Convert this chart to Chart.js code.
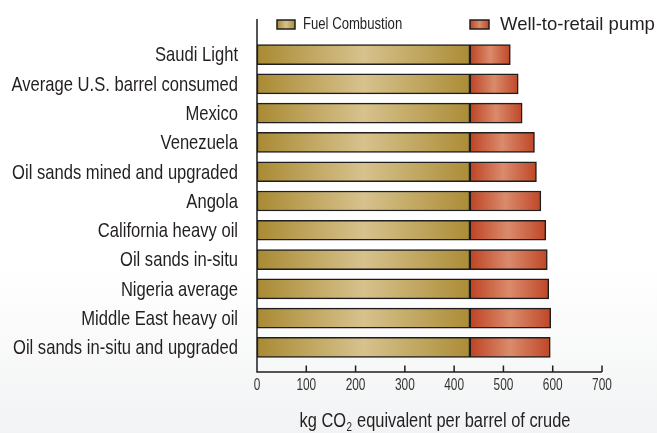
<!DOCTYPE html>
<html>
<head>
<meta charset="utf-8">
<script src="https://cdn.jsdelivr.net/npm/chart.js@4"></script>
<style>
  html, body { margin: 0; padding: 0; }
  body { width: 657px; height: 433px; background: linear-gradient(to bottom, #ffffff 0%, #ffffff 62%, #f2f3f4 100%); }
  #wrap { position: relative; width: 657px; height: 433px; }
</style>
</head>
<body>
<div id="wrap"><canvas id="co2Chart" width="657" height="433"></canvas></div>
<script>
// crude types, top to bottom
const categories = [
    'Saudi Light',
    'Average U.S. barrel consumed',
    'Mexico',
    'Venezuela',
    'Oil sands mined and upgraded',
    'Angola',
    'California heavy oil',
    'Oil sands in-situ',
    'Nigeria average',
    'Middle East heavy oil',
    'Oil sands in-situ and upgraded',
];
// kg CO2 eq per barrel
const fuelCombustion = [432, 432, 432, 432, 432, 432, 432, 432, 432, 432, 432];
const wellToPump = [82, 98, 106, 131, 135, 144, 154, 157, 160, 164, 163];
const xTickValues = [0, 100, 200, 300, 400, 500, 600, 700];

const seriesLabels = ['Fuel Combustion', 'Well-to-retail pump'];
const goldStops = ['#a98a33', '#d7c28d', '#ab8c36'];
const redStops = ['#bd4424', '#da8b6c', '#bf4727'];

const sans = '"Liberation Sans", Arial, sans-serif';
const axisColor = '#1e1e1e';
const textColor = '#231f20';

function segmentGradient(stops) {
    return (ctx) => {
        const chart = ctx.chart;
        const x = chart.scales.x;
        if (!x || !chart.chartArea || ctx.dataIndex === undefined) return stops[1];
        const i = ctx.dataIndex;
        const start = ctx.datasetIndex === 0 ? 0 : fuelCombustion[i];
        const end = ctx.datasetIndex === 0 ? fuelCombustion[i] : fuelCombustion[i] + wellToPump[i];
        const x0 = x.getPixelForValue(start);
        const x1 = x.getPixelForValue(end);
        const g = chart.ctx.createLinearGradient(x0, 0, x1, 0);
        g.addColorStop(0, stops[0]);
        g.addColorStop(0.5, stops[1]);
        g.addColorStop(1, stops[2]);
        return g;
    };
}

function boxGradient(c, x0, x1, stops) {
    const g = c.createLinearGradient(x0, 0, x1, 0);
    g.addColorStop(0, stops[0]);
    g.addColorStop(0.5, stops[1]);
    g.addColorStop(1, stops[2]);
    return g;
}

// condensed text: the original uses a narrow face, so squeeze a regular one
function narrowText(c, text, x, y, size, align, squeeze) {
    c.save();
    c.translate(x, y);
    c.scale(squeeze, 1);
    c.font = size + 'px ' + sans;
    c.textAlign = align;
    c.fillText(text, 0, 0);
    c.restore();
}

// axis lines with inward tick marks, slightly longer than the bar area
const axisLines = {
    id: 'axisLines',
    afterDatasetsDraw(chart) {
        const c = chart.ctx;
        const x = chart.scales.x;
        const area = chart.chartArea;
        const x0 = x.getPixelForValue(0);
        const yBottom = area.bottom + 10;
        c.save();
        c.strokeStyle = axisColor;
        c.lineWidth = 1.5;
        c.beginPath();
        c.moveTo(x0, 19);
        c.lineTo(x0, yBottom);
        c.lineTo(x.getPixelForValue(700), yBottom);
        for (const v of xTickValues.slice(1)) {
            const px = x.getPixelForValue(v);
            c.moveTo(px, yBottom);
            c.lineTo(px, yBottom - 6.5);
        }
        c.stroke();
        c.restore();
    },
};

// category labels, tick labels and axis title in a narrow style
const axisText = {
    id: 'axisText',
    afterDraw(chart) {
        const c = chart.ctx;
        const x = chart.scales.x;
        const y = chart.scales.y;
        const area = chart.chartArea;
        c.save();
        c.fillStyle = textColor;
        c.textBaseline = 'middle';
        categories.forEach((label, i) => {
            narrowText(c, label, area.left - 19, y.getPixelForValue(i) + 1, 21, 'right', 0.79);
        });
        c.fillStyle = '#333';
        for (const v of xTickValues) {
            narrowText(c, String(v), x.getPixelForValue(v), area.bottom + 24, 16, 'center', 0.74);
        }
        // axis title with subscript 2
        c.fillStyle = textColor;
        c.textBaseline = 'alphabetic';
        const parts = ['kg CO', '2', ' equivalent per barrel of crude'];
        c.font = '20px ' + sans;
        const w0 = c.measureText(parts[0]).width;
        const w2 = c.measureText(parts[2]).width;
        c.font = '12px ' + sans;
        const w1 = c.measureText(parts[1]).width;
        const sq = 0.82;
        const total = (w0 + w1 + w2) * sq;
        const cx = (area.left + area.right) / 2 + 5;
        const base = 427;
        let tx = cx - total / 2;
        narrowText(c, parts[0], tx, base, 20, 'left', sq);
        tx += w0 * sq + 0.5;
        narrowText(c, parts[1], tx, base + 4, 12, 'left', sq);
        tx += w1 * sq + 0.5;
        narrowText(c, parts[2], tx, base, 20, 'left', sq);
        c.restore();
    },
};

// legend with two different type styles, as in the original
const customLegend = {
    id: 'customLegend',
    afterDraw(chart) {
        const c = chart.ctx;
        const left = chart.chartArea.left;
        const boxes = [
            { stops: goldStops, bx: left + 20, bw: 18 },
            { stops: redStops, bx: left + 213, bw: 19 },
        ];
        c.save();
        for (const b of boxes) {
            c.fillStyle = boxGradient(c, b.bx, b.bx + b.bw, b.stops);
            c.fillRect(b.bx, 20, b.bw, 9);
            c.strokeStyle = axisColor;
            c.lineWidth = 1.5;
            c.strokeRect(b.bx, 20, b.bw, 9);
        }
        c.fillStyle = textColor;
        c.textBaseline = 'middle';
        narrowText(c, seriesLabels[0], left + 46, 25, 16, 'left', 0.82);
        c.font = '18.5px ' + sans;
        c.textAlign = 'left';
        c.fillText(seriesLabels[1], left + 243, 25);
        c.restore();
    },
};

new Chart(document.getElementById('co2Chart').getContext('2d'), {
    type: 'bar',
    data: {
        labels: categories,
        datasets: [
            {
                label: seriesLabels[0],
                data: fuelCombustion,
                backgroundColor: segmentGradient(goldStops),
                borderColor: axisColor,
                borderWidth: 1.5,
                borderSkipped: false,
                barThickness: 20,
            },
            {
                label: seriesLabels[1],
                data: wellToPump,
                backgroundColor: segmentGradient(redStops),
                borderColor: axisColor,
                borderWidth: 1.5,
                borderSkipped: false,
                barThickness: 20,
            },
        ],
    },
    options: {
        indexAxis: 'y',
        responsive: false,
        animation: false,
        layout: { padding: { top: 40, right: 55, bottom: 0, left: 0 } },
        plugins: {
            legend: { display: false },
            tooltip: { enabled: false },
        },
        scales: {
            x: {
                stacked: true,
                min: 0,
                max: 700,
                afterBuildTicks: (scale) => { scale.ticks = xTickValues.map((v) => ({ value: v })); },
                afterFit: (scale) => { scale.height = 71; },
                grid: { display: false, drawTicks: false },
                border: { display: false },
                ticks: { display: false },
            },
            y: {
                stacked: true,
                afterFit: (scale) => { scale.width = 257; },
                grid: { display: false, drawTicks: false },
                border: { display: false },
                ticks: { display: false },
            },
        },
    },
    plugins: [axisLines, axisText, customLegend],
});
</script>
</body>
</html>
